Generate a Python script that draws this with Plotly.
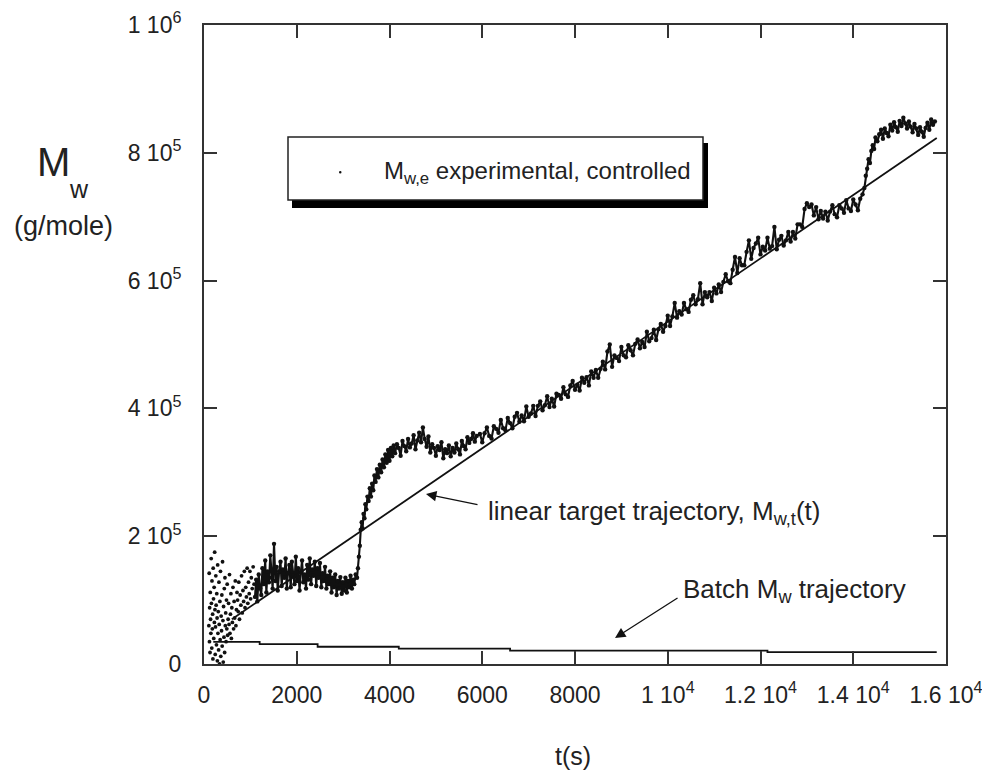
import plotly.graph_objects as go

# ---------------- data ----------------
# early, scattered measurements (t in s, Mw in 1e3 g/mole)
t_early = [105, 112, 118, 122, 130, 135, 142, 148, 155, 160, 168, 172, 180, 186, 192, 198, 205, 210,
           218, 224, 230, 236, 242, 248, 255, 262, 268, 275, 282, 288, 295, 300, 308, 315, 322, 328,
           335, 342, 348, 355, 362, 370, 378, 385, 392, 400, 408, 415, 422, 430, 438, 445, 452, 460,
           468, 476, 485, 492, 500, 510, 520, 530, 540, 550, 560, 570, 580, 590, 600, 612, 625, 638,
           650, 662, 675, 688, 700, 712, 725, 738, 750, 765, 780, 795, 810, 825, 840, 855, 870, 885,
           900, 915, 930, 945, 960, 975, 990, 1005, 1020, 1040, 1060, 1080]
mw_early_k = [60, 142, 35, 88, 18, 112, 70, 48, 165, 95, 25, 130, 55, 78, 8, 150, 102, 40,
              120, 65, 175, 85, 15, 58, 138, 92, 30, 110, 72, 5, 155, 48, 82, 22, 128, 62,
              0, 98, 38, 145, 12, 75, 52, 108, 28, 160, 68, 3, 90, 42, 118, 18, 135, 60,
              80, 35, 100, 55, 125, 45, 70, 95, 62, 140, 48, 78, 110, 40, 88, 65, 120, 55,
              98, 72, 130, 60, 85, 112, 100, 82, 128, 70, 108, 92, 138, 80, 115, 98, 145, 88,
              120, 105, 150, 95, 128, 110, 145, 102, 135, 118, 152, 125]

# controlled experimental trajectory
t_main = [1100, 1125, 1150, 1180, 1210, 1235, 1260, 1290, 1320, 1345, 1370, 1400, 1430, 1455, 1480,
          1510, 1540, 1565, 1590, 1620, 1650, 1675, 1700, 1730, 1760, 1785, 1810, 1840, 1870, 1895,
          1920, 1950, 1980, 2005, 2030, 2060, 2090, 2115, 2140, 2170, 2200, 2225, 2250, 2280, 2310,
          2335, 2360, 2390, 2420, 2445, 2470, 2500, 2530, 2555, 2580, 2610, 2640, 2665, 2690, 2720,
          2750, 2775, 2800, 2830, 2860, 2885, 2910, 2940, 2970, 2995, 3020, 3050, 3080, 3105, 3130,
          3160, 3190, 3215, 3240, 3270, 3300,
          3320, 3340, 3360, 3380, 3400, 3420, 3440, 3460, 3480, 3500, 3525, 3550, 3575, 3600, 3625,
          3650, 3675, 3700, 3730, 3760, 3790, 3820, 3850, 3880, 3910, 3940, 3970, 4000, 4030, 4060,
          4090,
          4120, 4160, 4200, 4240, 4280, 4320, 4360, 4400, 4440, 4480, 4520, 4560, 4600, 4640, 4680,
          4720, 4760, 4800, 4840, 4880, 4920, 4960, 5000, 5040, 5080, 5120, 5160, 5200, 5240, 5280,
          5320, 5360, 5400, 5440, 5480, 5520, 5560, 5600, 5640, 5680, 5720, 5760, 5800, 5840, 5880,
          5950, 6000, 6050, 6100, 6150, 6200, 6250, 6300, 6350, 6400, 6450, 6500, 6550, 6600, 6650,
          6700, 6750, 6800, 6850, 6900, 6950, 7000, 7050, 7100, 7150, 7200, 7250, 7300, 7350, 7400,
          7450, 7500, 7550, 7600, 7650, 7700, 7750, 7800, 7850, 7900, 7950, 8000, 8050, 8100, 8150,
          8200, 8250, 8300, 8350, 8400, 8450, 8500, 8550, 8600, 8650, 8700, 8750, 8800, 8850, 8900,
          8950, 9000, 9050, 9100, 9150, 9200, 9250, 9300, 9350, 9400, 9450, 9500, 9550, 9600, 9650,
          9700, 9750, 9800, 9850, 9900, 9950, 10000, 10050, 10100, 10150, 10200, 10250, 10300, 10350, 10400,
          10450, 10500, 10550, 10600, 10650, 10700, 10750, 10800, 10850, 10900, 10950, 11000, 11050, 11100, 11150,
          11200, 11250, 11300, 11350, 11400, 11450, 11500, 11550, 11600, 11650, 11700, 11750, 11800, 11850, 11900,
          11950, 12000, 12050, 12100, 12150, 12200, 12250, 12300, 12350, 12400, 12450, 12500, 12550, 12600, 12650,
          12700, 12750, 12800, 12850, 12900, 12950, 13000, 13050, 13100, 13150, 13200, 13250, 13300, 13350, 13400,
          13450, 13500, 13550, 13600, 13650, 13700, 13750, 13800, 13850, 13900, 13950, 14000, 14050, 14100, 14150,
          14200,
          14240, 14270, 14300, 14330, 14360, 14390, 14420, 14450, 14480, 14520, 14560, 14600, 14640, 14680, 14720,
          14760, 14800, 14840, 14880, 14920, 14960, 15000, 15040, 15080, 15120, 15160, 15200, 15240, 15280, 15320,
          15360, 15400, 15440, 15480, 15520, 15560, 15600, 15640, 15680, 15720, 15760]
mw_main_k = [105, 132, 98, 140, 118, 108, 150, 125, 162, 112, 145, 128, 170, 135, 118,
             188, 130, 152, 115, 145, 160, 122, 148, 135, 165, 118, 142, 155, 120, 160,
             138, 125, 168, 130, 150, 115, 145, 162, 128, 140, 118, 155, 132, 165, 125,
             148, 138, 160, 122, 150, 135, 158, 120, 142, 130, 152, 118, 138, 125, 145,
             112, 135, 120, 140, 108, 130, 118, 136, 110, 128, 115, 135, 112, 130, 120,
             138, 118, 132, 125, 140, 135,
             150, 168, 185, 210, 222, 212, 235, 228, 250, 242, 262, 255, 275, 262, 282,
             272, 295, 285, 305, 292, 312, 300, 320, 308, 328, 315, 335, 318, 338, 325,
             342,
             330, 344, 338, 326, 349, 341, 333, 352, 339, 345, 358, 336, 350, 362, 347,
             370, 352, 340, 356, 331, 344, 338, 326, 341, 335, 347, 322, 336, 330, 342,
             325, 338, 331, 345, 336, 328, 349, 341, 336, 355, 346, 352, 361, 348, 357,
             360, 347, 361, 370, 357, 353, 372, 368, 362, 382, 369, 366, 385, 377, 369,
             387, 393, 379, 389, 380, 403, 387, 392, 404, 388, 404, 411, 397, 405, 419,
             402, 415, 403, 423, 421, 415, 433, 422, 418, 436, 443, 429, 437, 428, 448,
             440, 449, 436, 458, 448, 460, 448, 462, 473, 461, 489, 500, 465, 483, 479,
             474, 496, 483, 480, 499, 491, 483, 501, 508, 494, 504, 496, 520, 505, 510,
             523, 507, 524, 532, 520, 529, 545, 529, 544, 565, 542, 552, 547, 565, 555,
             551, 570, 577, 563, 571, 596, 563, 582, 574, 582, 568, 589, 580, 594, 582,
             598, 610, 599, 596, 617, 637, 612, 635, 624, 624, 645, 663, 634, 651, 658,
             667, 641, 653, 647, 667, 650, 654, 684, 649, 664, 670, 655, 663, 676, 661,
             676, 666, 688, 688, 684, 712, 721, 715, 719, 702, 715, 696, 709, 697, 708,
             694, 708, 718, 704, 699, 718, 713, 706, 726, 713, 709, 727, 719, 710, 728,
             735,
             745, 764, 775, 790, 784, 803, 812, 806, 824, 818, 829, 836, 822, 838, 831,
             826, 844, 835, 848, 840, 833, 850, 842, 855, 846, 838, 849, 841, 832, 845,
             838, 828, 840, 833, 825, 839, 847, 836, 852, 844, 849]

# linear target trajectory
t_target = [600, 15800]
mw_target_k = [70, 823]

# batch trajectory (stepwise)
t_batch = [200, 1200, 2450, 4200, 6600, 12150, 15800]
mw_batch_k = [34.5, 31, 27, 24, 21, 18.5, 18.5]

x_tickvals = [0, 2000, 4000, 6000, 8000, 10000, 12000, 14000, 16000]
x_ticktext = ["0", "2000", "4000", "6000", "8000", "1 10<sup>4</sup>", "1.2 10<sup>4</sup>",
              "1.4 10<sup>4</sup>", "1.6 10<sup>4</sup>"]
y_tickvals = [0, 200000, 400000, 600000, 800000, 1000000]
y_ticktext = ["0", "2 10<sup>5</sup>", "4 10<sup>5</sup>", "6 10<sup>5</sup>", "8 10<sup>5</sup>",
              "1 10<sup>6</sup>"]

FONT = "Arial, Liberation Sans, sans-serif"
INK = "#111111"
TXT = "#222222"

# the html body has an 8px margin: the figure is drawn from page pixel (8, 8)
OFF = 8
W, H = 990 - OFF, 774 - OFF
# plot area, in page pixels
L, R, T, B = 204, 946, 25, 664


def px(x):
    return (x - L) / (R - L)


def py(y):
    return (B - y) / (B - T)


fig = go.Figure()

fig.add_trace(go.Scatter(x=t_early, y=[v * 1000 for v in mw_early_k], mode="markers",
                         marker=dict(size=3.8, color=INK), showlegend=False, hoverinfo="skip"))
fig.add_trace(go.Scatter(x=t_main, y=[v * 1000 for v in mw_main_k], mode="lines+markers",
                         line=dict(color=INK, width=2.1), marker=dict(size=4.4, color=INK),
                         showlegend=False, hoverinfo="skip"))
fig.add_trace(go.Scatter(x=t_target, y=[v * 1000 for v in mw_target_k], mode="lines",
                         line=dict(color=INK, width=1.8), showlegend=False, hoverinfo="skip"))
fig.add_trace(go.Scatter(x=t_batch, y=[v * 1000 for v in mw_batch_k], mode="lines",
                         line=dict(color=INK, width=1.8, shape="hv"), showlegend=False,
                         hoverinfo="skip"))

axis_common = dict(showline=True, linecolor="#333333", linewidth=2, mirror="ticks",
                   ticks="inside", ticklen=13, tickwidth=1.5, tickcolor="#333333",
                   showgrid=False, zeroline=False, automargin=False,
                   tickfont=dict(family=FONT, size=23, color=TXT))

fig.update_xaxes(range=[0, 16000], tickvals=x_tickvals, ticktext=x_ticktext,
                 ticklabelstandoff=9, **axis_common)
fig.update_yaxes(range=[0, 1000000], tickvals=y_tickvals, ticktext=y_ticktext,
                 ticklabelstandoff=16, **axis_common)

# legend box with drop shadow
shapes = [
    dict(type="rect", xref="paper", yref="paper", x0=px(292), x1=px(708), y0=py(208), y1=py(143),
         fillcolor="black", line=dict(width=0), layer="above"),
    dict(type="rect", xref="paper", yref="paper", x0=px(288), x1=px(703), y0=py(200), y1=py(137),
         fillcolor="white", line=dict(color=TXT, width=1.5), layer="above"),
    dict(type="circle", xref="paper", yref="paper", x0=px(339), x1=px(341.5), y0=py(173.5),
         y1=py(171), fillcolor=INK, line=dict(width=0), layer="above"),
]

annotations = [
    dict(xref="paper", yref="paper", x=px(382), y=py(172), xanchor="left", yanchor="middle",
         text="M<sub>w,e</sub> experimental, controlled", showarrow=False,
         font=dict(family=FONT, size=24, color=TXT)),
    # y-axis title
    dict(xref="paper", yref="paper", x=px(53), y=py(162), xanchor="center", yanchor="middle",
         text="M", showarrow=False, font=dict(family=FONT, size=40, color=TXT)),
    dict(xref="paper", yref="paper", x=px(79), y=py(189), xanchor="center", yanchor="middle",
         text="w", showarrow=False, font=dict(family=FONT, size=25, color=TXT)),
    dict(xref="paper", yref="paper", x=px(63), y=py(226), xanchor="center", yanchor="middle",
         text="(g/mole)", showarrow=False, font=dict(family=FONT, size=27, color=TXT)),
    # x-axis title
    dict(xref="paper", yref="paper", x=px(573), y=py(756), xanchor="center", yanchor="middle",
         text="t(s)", showarrow=False, font=dict(family=FONT, size=25, color=TXT)),
    # curve labels
    dict(xref="paper", yref="paper", x=px(486), y=py(512), xanchor="left", yanchor="middle",
         text="linear target trajectory, M<sub>w,t</sub>(t)", showarrow=False,
         font=dict(family=FONT, size=26, color=TXT)),
    dict(xref="paper", yref="paper", x=px(681), y=py(590), xanchor="left", yanchor="middle",
         text="Batch M<sub>w</sub> trajectory", showarrow=False,
         font=dict(family=FONT, size=26, color=TXT)),
    # arrows
    dict(xref="x", yref="y", x=4787, y=266000, axref="x", ayref="y", ax=5930, ay=249000,
         text="", showarrow=True, arrowhead=2, arrowsize=1.6, arrowwidth=1.3, arrowcolor=INK),
    dict(xref="x", yref="y", x=8863, y=40700, axref="x", ayref="y", ax=10243, ay=104900,
         text="", showarrow=True, arrowhead=2, arrowsize=1.6, arrowwidth=1.3, arrowcolor=INK),
]

fig.update_layout(width=W, height=H,
                  margin=dict(l=L - OFF, r=(W + OFF) - R, t=T - OFF, b=(H + OFF) - B,
                              autoexpand=False),
                  paper_bgcolor="white", plot_bgcolor="white", shapes=shapes,
                  annotations=annotations, showlegend=False,
                  font=dict(family=FONT, color=TXT))

fig.write_html("out.html")
